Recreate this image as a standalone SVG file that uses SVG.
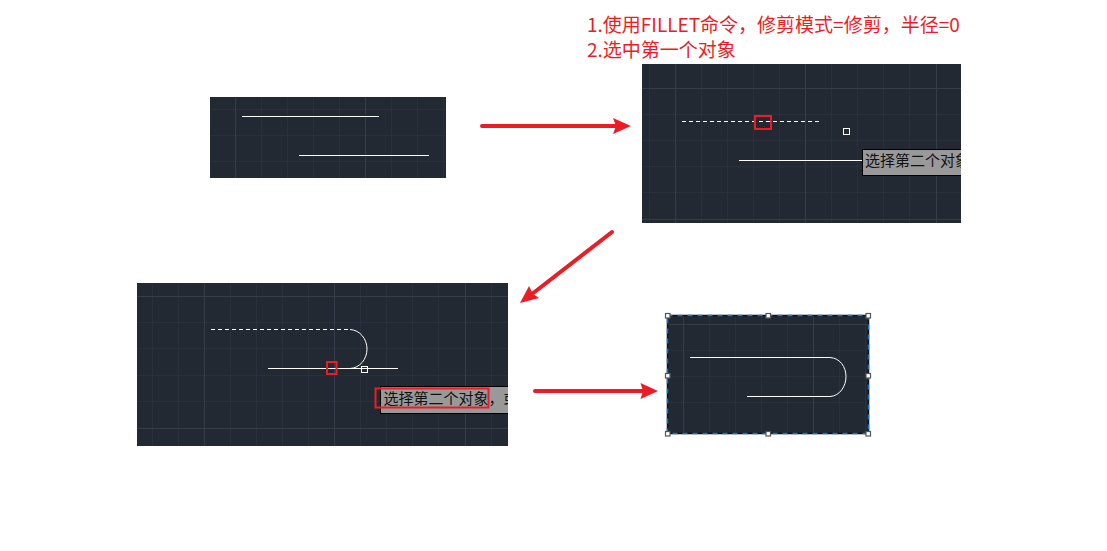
<svg xmlns="http://www.w3.org/2000/svg" width="1107" height="551" viewBox="0 0 1107 551">
<style>
.bg{fill:#222932}
.minor{stroke:#29303b;stroke-width:1;fill:none}
.major{stroke:#363c4a;stroke-width:1;fill:none}
.w{stroke:#fff;stroke-width:1;fill:none}
.d{stroke:#fff;stroke-width:1;fill:none;stroke-dasharray:4 3}
.grip{fill:none;stroke:#fff;stroke-width:1}
.red{fill:none;stroke:#ed1c24;stroke-width:2}
.tip{fill:#999;stroke:#000;stroke-width:1}
.tt{font-family:"Noto Sans CJK SC","Liberation Sans",sans-serif;font-size:15px;fill:#111}
.cap{font-family:"Noto Sans CJK SC","Liberation Sans",sans-serif;font-size:19px;fill:#ed1c24}
.arrow{stroke:#ed1c24;stroke-width:4;stroke-linecap:round;fill:none}
.head{fill:#ed1c24}
.under{fill:none;stroke:#111;stroke-width:1.5}
.sel{fill:none;stroke:#0a78d7;stroke-width:1.5;stroke-dasharray:5 5}
.h{fill:#fff;stroke:#555;stroke-width:1.2}
</style>
<defs>
<clipPath id="c2"><rect x="642" y="64" width="319" height="159"/></clipPath>
<clipPath id="c3"><rect x="137" y="283" width="371" height="163"/></clipPath>
</defs>

<g id="panel-1">
<rect class="bg" x="210" y="97" width="236" height="81"/>
<path class="minor" d="M261.500 97V178M287.500 97V178M313.500 97V178M339.500 97V178M391.500 97V178M417.500 97V178M443.500 97V178M210 135.500H446M210 161.500H446M210 109.500H446"/>
<path class="major" d="M235.500 97V178M365.500 97V178"/>
<path class="w" d="M242 116.500H379M299 155.500H429"/>
</g>

<g id="panel-2">
<g clip-path="url(#c2)">
<rect class="bg" x="642" y="64" width="319" height="159"/>
<path class="minor" d="M649.500 64V223M701.500 64V223M727.500 64V223M753.500 64V223M779.500 64V223M831.500 64V223M857.500 64V223M883.500 64V223M909.500 64V223M642 114.500H961M642 140.500H961M642 166.500H961M642 192.500H961"/>
<path class="major" d="M675.500 64V223M805.500 64V223M936.500 64V223M642 88.500H961M642 219.500H961"/>
<path class="d" d="M682 121.500H819"/>
<path class="w" d="M739 160.500H862"/>
<rect class="grip" x="843.500" y="128.500" width="6" height="6"/>
<rect class="red" x="755" y="116" width="16" height="13"/>
<rect class="tip" x="862.500" y="149.500" width="110" height="26"/>
<text class="tt" x="865" y="166">选择第二个对象</text>
</g>
</g>

<g id="panel-3">
<g clip-path="url(#c3)">
<rect class="bg" x="137" y="283" width="371" height="163"/>
<path class="minor" d="M152.500 283V446M178.500 283V446M230.500 283V446M256.500 283V446M282.500 283V446M308.500 283V446M360.500 283V446M386.500 283V446M412.500 283V446M438.500 283V446M491.500 283V446M137 322.500H508M137 348.500H508M137 375.500H508M137 401.500H508"/>
<path class="major" d="M204.500 283V446M334.500 283V446M465.500 283V446M137 296.500H508M137 428.500H508"/>
<path class="d" d="M211 329.500H350"/>
<path class="w" d="M350 329.500C360 330 367 339 367 349C367 359 360 368 350 368.500M268 368.500H398"/>
<rect class="grip" x="361.500" y="366.500" width="6" height="6"/>
<rect class="red" x="327" y="362" width="9.500" height="12"/>
<rect class="tip" x="380.500" y="386.500" width="140" height="27"/>
<text class="tt" x="383.500" y="404">选择第二个对象，或</text>
<rect class="red" x="375.500" y="388.500" width="113" height="19"/>
</g>
</g>

<g id="panel-4">
<rect class="bg" x="668" y="316" width="200" height="117"/>
<path class="minor" d="M709.500 316V433M735.500 316V433M761.500 316V433M787.500 316V433M839.500 316V433M865.500 316V433M668 350.500H868M668 376.500H868M668 402.500H868"/>
<path class="major" d="M683.500 316V433M813.500 316V433M668 324.500H868"/>
<path class="w" d="M690 357.500H830C840 358 846 367 846 376.500C846 386 840 396 830 396.500H747"/>
<rect class="under" x="667.500" y="315.500" width="201" height="118"/>
<rect class="sel" x="667.500" y="315.500" width="201" height="118"/>
<rect class="h" x="665.500" y="313.500" width="4.500" height="4.500"/>
<rect class="h" x="766" y="313.500" width="4.500" height="4.500"/>
<rect class="h" x="866" y="313.500" width="4.500" height="4.500"/>
<rect class="h" x="665.500" y="373.500" width="4.500" height="4.500"/>
<rect class="h" x="866" y="373.500" width="4.500" height="4.500"/>
<rect class="h" x="665.500" y="431.500" width="4.500" height="4.500"/>
<rect class="h" x="766" y="431.500" width="4.500" height="4.500"/>
<rect class="h" x="866" y="431.500" width="4.500" height="4.500"/>
</g>

<g id="caption">
<text class="cap" x="587" y="32">1.使用FILLET命令，修剪模式=修剪，半径=0</text>
<text class="cap" x="587" y="57">2.选中第一个对象</text>
</g>

<g id="connectors">
<path class="arrow" d="M482 126H616"/>
<path class="head" d="M613 118L631 126L613 134L616 126Z"/>
<path class="arrow" d="M612 232L532 294"/>
<path class="head" d="M520 303L529 286L533 294L539 298Z"/>
<path class="arrow" d="M535 391H644"/>
<path class="head" d="M640.500 383L658 391L640.500 399L643 391Z"/>
</g>
</svg>
